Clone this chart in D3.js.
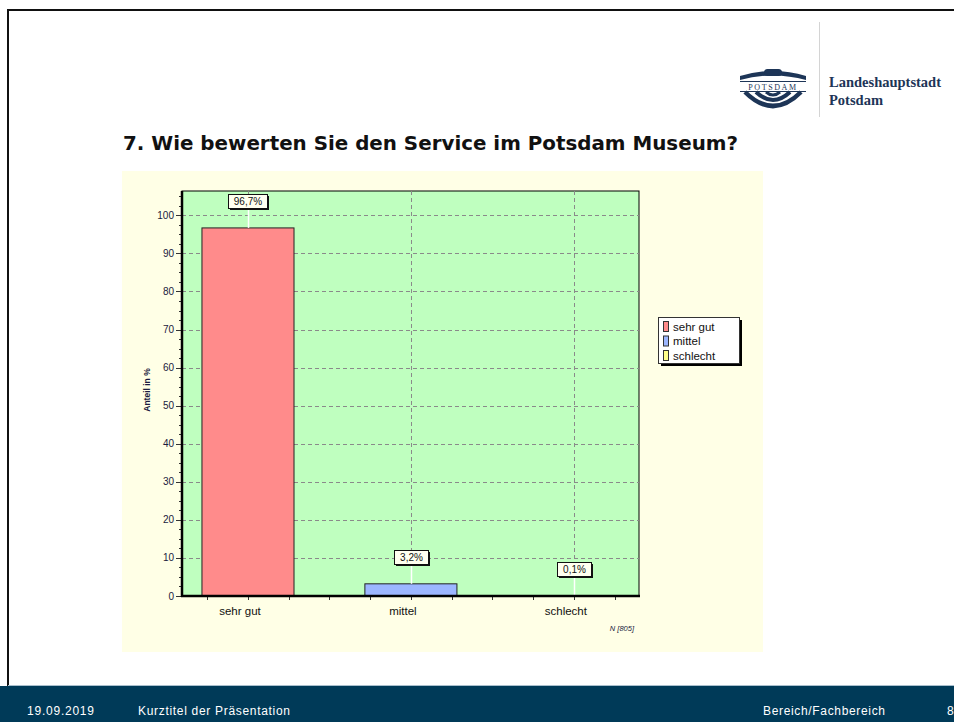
<!DOCTYPE html>
<html>
<head>
<meta charset="utf-8">
<script src="https://cdn.jsdelivr.net/npm/d3@7"></script>
<style>
  body { margin: 0; background: #fff; }
  svg { display: block; }
</style>
</head>
<body>
<svg id="slide" width="954" height="722"></svg>
<script>
// chart data
var categories = ["sehr gut", "mittel", "schlecht"];
var values = [96.7, 3.2, 0.1];
var barColors = ["#ff8b8b", "#9cb6ff", "#ffff8a"];
var sampleSize = 805;
var titleText = "7. Wie bewerten Sie den Service im Potsdam Museum?";
var yTitle = "Anteil in %";
var footerLeft = ["19.09.2019", "Kurztitel der Präsentation"];
var footerRight = ["Bereich/Fachbereich", "8"];

var de = d3.formatLocale({decimal: ",", thousands: ".", grouping: [3], currency: ["", "€"]});
var pct = de.format(".1f");

var svg = d3.select("#slide");

// slide frame
svg.append("line").attr("x1", 7).attr("x2", 954).attr("y1", 10).attr("y2", 10)
    .attr("stroke", "#111").attr("stroke-width", 2);
svg.append("line").attr("x1", 8).attr("x2", 8).attr("y1", 9).attr("y2", 686)
    .attr("stroke", "#111").attr("stroke-width", 2);

// footer
svg.append("rect").attr("x", 0).attr("y", 686).attr("width", 954).attr("height", 36).attr("fill", "#003a58");
svg.append("line").attr("x1", 8).attr("x2", 954).attr("y1", 685.5).attr("y2", 685.5).attr("stroke", "#a9bfcd");
var ff = {"font-family": "Liberation Sans, Arial", "font-size": 12, "fill": "#fff"};
function ftext(t, x) {
    var el = svg.append("text").attr("x", x).attr("y", 715).text(t);
    for (var k in ff) el.attr(k, ff[k]);
    return el;
}
ftext(footerLeft[0], 27).attr("textLength", 67);
ftext(footerLeft[1], 138).attr("textLength", 152);
ftext(footerRight[0], 763).attr("textLength", 122);
ftext(footerRight[1], 947);

// logo
var logo = svg.append("g").attr("fill", "#1d3557").attr("stroke", "#1d3557");
logo.append("path").attr("d", "M740,76 Q773,66 806,76 L806,80 Q773,71 740,80 Z").attr("stroke", "none");
logo.append("rect").attr("x", 764).attr("y", 69).attr("width", 18).attr("height", 7).attr("rx", 3.5).attr("stroke", "none");
logo.append("line").attr("x1", 740).attr("x2", 806).attr("y1", 81.5).attr("y2", 81.5).attr("stroke-width", 1);
logo.append("line").attr("x1", 740).attr("x2", 806).attr("y1", 91.5).attr("y2", 91.5).attr("stroke-width", 1);
logo.append("text").attr("x", 773).attr("y", 89.5).attr("text-anchor", "middle")
    .attr("font-family", "Liberation Serif, serif").attr("font-size", 8).attr("stroke", "none")
    .attr("letter-spacing", 1.6).text("POTSDAM");
logo.append("path").attr("d", "M745,92 Q773,120 801,92").attr("fill", "none").attr("stroke-width", 4.5);
logo.append("path").attr("d", "M756,92 Q773,108 790,92").attr("fill", "none").attr("stroke-width", 4);
logo.append("path").attr("d", "M766,92 Q773,98 780,92").attr("fill", "none").attr("stroke-width", 3);
svg.append("line").attr("x1", 819.5).attr("x2", 819.5).attr("y1", 22).attr("y2", 117).attr("stroke", "#d4d4d4");
svg.append("text").attr("x", 829).attr("y", 87).attr("font-family", "Liberation Serif, serif")
    .attr("font-weight", "bold").attr("font-size", 14.5).attr("fill", "#1d3557").text("Landeshauptstadt");
svg.append("text").attr("x", 829).attr("y", 105).attr("font-family", "Liberation Serif, serif")
    .attr("font-weight", "bold").attr("font-size", 14.5).attr("fill", "#1d3557").text("Potsdam");

// title
svg.append("text").attr("x", 123).attr("y", 150)
    .attr("font-family", "DejaVu Sans, Verdana").attr("font-weight", "bold").attr("font-size", 19)
    .attr("fill", "#111").attr("textLength", 615).attr("lengthAdjust", "spacingAndGlyphs").text(titleText);

// chart panel
svg.append("rect").attr("x", 122).attr("y", 171).attr("width", 641).attr("height", 481).attr("fill", "#ffffe6");

var plot = {left: 182, right: 639, top: 191, bottom: 596};
var x = d3.scaleLinear().domain([-0.405, 2.4]).range([plot.left, plot.right]);
var y = d3.scaleLinear().domain([0, 106.4]).range([plot.bottom, plot.top]);
var step = x(1) - x(0);
var barW = step * 0.565;

svg.append("rect").attr("x", plot.left).attr("y", plot.top)
    .attr("width", plot.right - plot.left).attr("height", plot.bottom - plot.top)
    .attr("fill", "#bfffbf").attr("stroke", "#000").attr("stroke-width", 1);

// grid
var g = svg.append("g");
g.selectAll(".hgrid").data(d3.range(10, 101, 10)).enter().append("line")
    .attr("x1", plot.left).attr("x2", plot.right)
    .attr("y1", function(d){ return Math.round(y(d)) + 0.5; })
    .attr("y2", function(d){ return Math.round(y(d)) + 0.5; })
    .attr("stroke", "#8a8a8a").attr("stroke-dasharray", "4,3");
g.selectAll(".vgrid").data(d3.range(categories.length)).enter().append("line")
    .attr("x1", function(d){ return Math.round(x(d)) + 0.5; })
    .attr("x2", function(d){ return Math.round(x(d)) + 0.5; })
    .attr("y1", plot.top).attr("y2", plot.bottom)
    .attr("stroke", "#8a8a8a").attr("stroke-dasharray", "4,3");

// bars
svg.selectAll(".bar").data(values).enter().append("rect")
    .attr("x", function(d, i){ return x(i) - barW / 2; })
    .attr("y", function(d){ return y(d); })
    .attr("width", barW)
    .attr("height", function(d){ return y(0) - y(d); })
    .attr("fill", function(d, i){ return barColors[i]; })
    .attr("stroke", "#222").attr("stroke-width", 1);

// value labels
var lab = svg.selectAll(".vlab").data(values).enter().append("g");
lab.append("line")
    .attr("x1", function(d, i){ return Math.round(x(i)) + 0.5; })
    .attr("x2", function(d, i){ return Math.round(x(i)) + 0.5; })
    .attr("y1", function(d){ return y(d) - 20; })
    .attr("y2", function(d){ return y(d); })
    .attr("stroke", "#fff").attr("stroke-width", 1.5);
lab.each(function(d, i){
    var gg = d3.select(this);
    var t = pct(d) + "%";
    var w = t.length > 4 ? 39 : 34;
    var bx = Math.round(x(i) - w / 2), by = Math.round(y(d) - 34);
    gg.append("rect").attr("x", bx + 2).attr("y", by + 2).attr("width", w).attr("height", 14).attr("fill", "#111");
    gg.append("rect").attr("x", bx + 0.5).attr("y", by + 0.5).attr("width", w).attr("height", 14)
        .attr("fill", "#fffff0").attr("stroke", "#111");
    gg.append("text").attr("x", bx + w / 2 + 0.5).attr("y", by + 11)
        .attr("text-anchor", "middle").attr("font-family", "Liberation Sans, Arial").attr("font-size", 10)
        .attr("fill", "#111").text(t);
});

// y axis
var yAxis = svg.append("g").attr("transform", "translate(" + plot.left + ",0)");
yAxis.selectAll(".minor").data(d3.range(0, 106, 2.5)).enter().append("line")
    .attr("x1", -3).attr("x2", 0)
    .attr("y1", function(d){ return Math.round(y(d)) + 0.5; })
    .attr("y2", function(d){ return Math.round(y(d)) + 0.5; })
    .attr("stroke", "#333");
yAxis.selectAll(".major").data(d3.range(0, 101, 10)).enter().append("line")
    .attr("x1", -6).attr("x2", 0)
    .attr("y1", function(d){ return Math.round(y(d)) + 0.5; })
    .attr("y2", function(d){ return Math.round(y(d)) + 0.5; })
    .attr("stroke", "#333");
yAxis.selectAll(".ylab").data(d3.range(0, 101, 10)).enter().append("text")
    .attr("x", -8).attr("y", function(d){ return y(d) + 3.5; })
    .attr("text-anchor", "end").attr("font-family", "Liberation Sans, Arial").attr("font-size", 10)
    .attr("fill", "#1a1a40").text(function(d){ return d; });
svg.append("line").attr("x1", plot.left).attr("x2", plot.left).attr("y1", plot.top).attr("y2", plot.bottom + 1)
    .attr("stroke", "#000").attr("stroke-width", 2.5);
svg.append("text").attr("transform", "translate(150,390) rotate(-90)")
    .attr("text-anchor", "middle").attr("font-family", "Liberation Sans, Arial").attr("font-size", 8.5)
    .attr("font-weight", "bold").attr("fill", "#1a1a40").text(yTitle);

// x axis
var xAxis = svg.append("g");
var xTicks = d3.range(-0.5, 2.5, 0.25).filter(function(d){ return x(d) > plot.left + 2 && x(d) < plot.right - 2; });
xAxis.selectAll(".xtick").data(xTicks).enter().append("line")
    .attr("x1", function(d){ return Math.round(x(d)) + 0.5; })
    .attr("x2", function(d){ return Math.round(x(d)) + 0.5; })
    .attr("y1", plot.bottom).attr("y2", plot.bottom + 4)
    .attr("stroke", "#333");
svg.append("line").attr("x1", plot.left - 1).attr("x2", plot.right + 1).attr("y1", plot.bottom).attr("y2", plot.bottom)
    .attr("stroke", "#000").attr("stroke-width", 2.5);
xAxis.selectAll(".xlab").data(categories).enter().append("text")
    .attr("x", function(d, i){ return x(i) - 8; }).attr("y", 615)
    .attr("text-anchor", "middle").attr("font-family", "Liberation Sans, Arial").attr("font-size", 11.5)
    .attr("fill", "#111").text(function(d){ return d; });
svg.append("text").attr("x", 634).attr("y", 631).attr("text-anchor", "end")
    .attr("font-family", "Liberation Sans, Arial").attr("font-size", 7.5).attr("font-style", "italic")
    .attr("fill", "#1a1a40").text("N [" + sampleSize + "]");

// legend
var lg = svg.append("g").attr("transform", "translate(658,317)");
lg.append("rect").attr("x", 3).attr("y", 3).attr("width", 81).attr("height", 46).attr("fill", "#000");
lg.append("rect").attr("x", 0.5).attr("y", 0.5).attr("width", 81).attr("height", 46).attr("fill", "#fff").attr("stroke", "#333");
var items = lg.selectAll(".li").data(categories).enter().append("g")
    .attr("transform", function(d, i){ return "translate(5," + (4 + i * 14.5) + ")"; });
items.append("rect").attr("x", 0.5).attr("y", 0.5).attr("width", 5).attr("height", 10)
    .attr("fill", function(d, i){ return barColors[i]; }).attr("stroke", "#333");
items.append("text").attr("x", 10).attr("y", 9.5).attr("font-family", "Liberation Sans, Arial")
    .attr("font-size", 11.5).attr("fill", "#111").text(function(d){ return d; });
</script>
</body>
</html>
